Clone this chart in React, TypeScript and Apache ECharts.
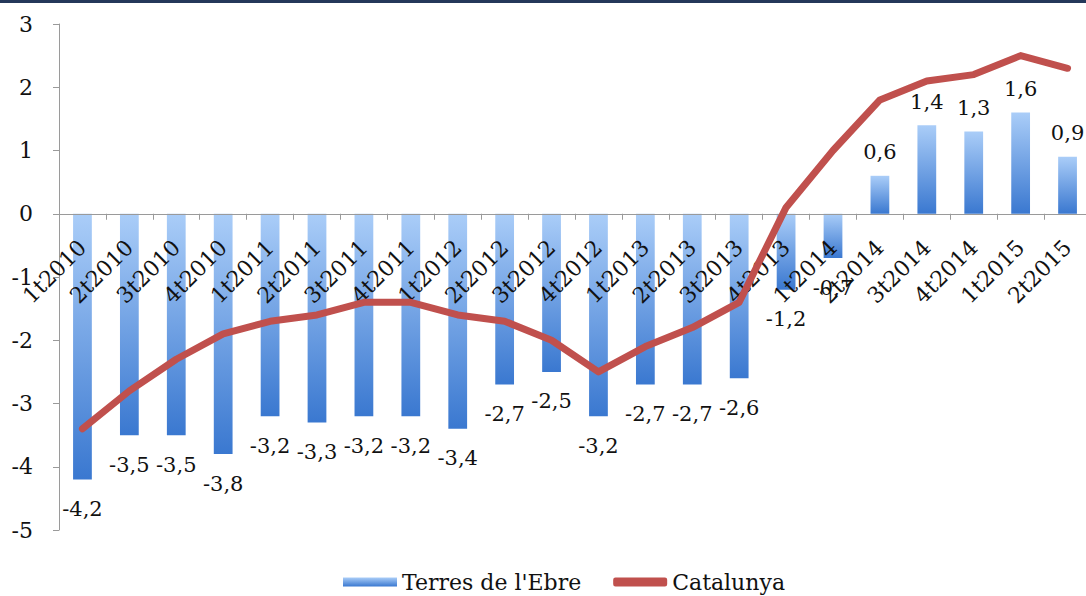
import React, { useEffect, useRef } from "react";
import * as echarts from "echarts";

const categories = [
  "1t2010", "2t2010", "3t2010", "4t2010",
  "1t2011", "2t2011", "3t2011", "4t2011",
  "1t2012", "2t2012", "3t2012", "4t2012",
  "1t2013", "2t2013", "3t2013", "4t2013",
  "1t2014", "2t2014", "3t2014", "4t2014",
  "1t2015", "2t2015",
];

const terresEbre = [
  -4.2, -3.5, -3.5, -3.8,
  -3.2, -3.3, -3.2, -3.2,
  -3.4, -2.7, -2.5, -3.2,
  -2.7, -2.7, -2.6, -1.2,
  -0.7, 0.6, 1.4, 1.3,
  1.6, 0.9,
];

const catalunya = [
  -3.4, -2.8, -2.3, -1.9,
  -1.7, -1.6, -1.4, -1.4,
  -1.6, -1.7, -2.0, -2.5,
  -2.1, -1.8, -1.4, 0.1,
  1.0, 1.8, 2.1, 2.2,
  2.5, 2.3,
];

const yTicks = { min: -5, max: 3, interval: 1 };

const FONT = "DejaVu Serif";
const GRID_TOP = 24;
const GRID_BOTTOM = 66;
const HEIGHT = 596;

export default function App() {
  const ref = useRef<HTMLDivElement>(null);

  useEffect(() => {
    if (!ref.current) return;
    const chart = echarts.init(ref.current, null, { renderer: "svg" });
    const fmt = (v: number) => String(v).replace(".", ",");
    const barGradient = new echarts.graphic.LinearGradient(0, 0, 0, 1, [
      { offset: 0, color: "#aacdf8" },
      { offset: 1, color: "#3a78d0" },
    ]);
    const gridH = HEIGHT - GRID_TOP - GRID_BOTTOM;
    const zeroOffset =
      (gridH * (0 - yTicks.min)) / (yTicks.max - yTicks.min);
    const legendText = {
      fontFamily: FONT,
      fontSize: 22,
      color: "#111",
      rich: { s: { fontFamily: FONT, fontSize: 22, color: "#111" } },
    };
    chart.setOption({
      animation: false,
      backgroundColor: "#ffffff",
      textStyle: { fontFamily: FONT },
      graphic: [
        {
          type: "rect",
          left: 0,
          top: 0,
          shape: { width: 1086, height: 3 },
          style: { fill: "#24385a" },
          z: 100,
        },
      ],
      grid: {
        left: 59,
        right: -5,
        top: GRID_TOP,
        bottom: GRID_BOTTOM,
        containLabel: false,
        outerBoundsMode: "none",
      },
      legend: {
        bottom: -2,
        left: 338,
        itemWidth: 54,
        itemHeight: 9,
        itemGap: 32,
        formatter: "{s|{name}}",
        textStyle: legendText,
        data: [
          { name: "Terres de l'Ebre", icon: "rect" },
          {
            name: "Catalunya",
            icon: "roundRect",
            itemStyle: { color: "#c0504d" },
          },
        ],
      },
      xAxis: {
        type: "category",
        data: categories,
        position: "bottom",
        offset: -zeroOffset,
        z: 2,
        axisLine: { onZero: false, lineStyle: { color: "#9a9a9a", width: 1 } },
        axisTick: { show: true, length: 6, lineStyle: { color: "#9a9a9a" } },
        axisLabel: {
          rotate: 45,
          interval: 0,
          margin: 30,
          fontFamily: FONT,
          fontSize: 22,
          color: "#111",
        },
        splitLine: { show: false },
      },
      yAxis: {
        type: "value",
        min: yTicks.min,
        max: yTicks.max,
        interval: yTicks.interval,
        axisLine: { show: true, lineStyle: { color: "#9a9a9a", width: 1 } },
        axisTick: { show: true, length: 6, lineStyle: { color: "#9a9a9a" } },
        axisLabel: { fontFamily: FONT, fontSize: 22, color: "#111", margin: 26 },
        splitLine: { show: false },
      },
      series: [
        {
          name: "Terres de l'Ebre",
          type: "bar",
          data: terresEbre.map((v) => ({
            value: v,
            label: {
              position: v < 0 ? "bottom" : "top",
              distance: v < 0 ? 19 : 13,
            },
          })),
          barWidth: "40%",
          z: 1,
          itemStyle: { color: barGradient },
          label: {
            show: true,
            fontFamily: FONT,
            fontSize: 21,
            color: "#111",
            formatter: (p: any) => fmt(p.value),
          },
        },
        {
          name: "Catalunya",
          type: "line",
          data: catalunya,
          z: 3,
          showSymbol: false,
          symbol: "none",
          lineStyle: { color: "#c0504d", width: 7, join: "round", cap: "round" },
          itemStyle: { color: "#c0504d" },
        },
      ],
    });
    return () => chart.dispose();
  }, []);

  return (
    <div
      ref={ref}
      style={{ position: "fixed", left: 0, top: 0, width: 1086, height: 596 }}
    />
  );
}
